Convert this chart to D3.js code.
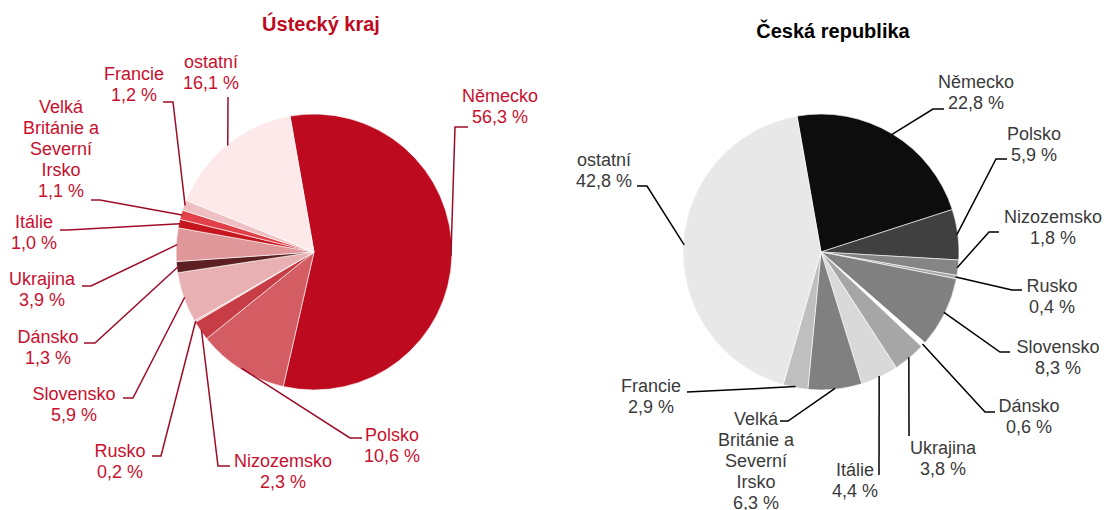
<!DOCTYPE html>
<html>
<head>
  <meta charset="utf-8">
  <title>Ústecký kraj / Česká republika</title>
  <style>
    body { margin: 0; background: #ffffff; }
    svg { display: block; font-family: "Liberation Sans", Arial, sans-serif; }
  </style>
</head>
<body>
  <div id="chart"></div>

  <script src="https://d3js.org/d3.v7.min.js"></script>
  <script>
    // Countries in slice order (clockwise)
    var countries = ["Německo", "Polsko", "Nizozemsko", "Rusko", "Slovensko", "Dánsko",
                     "Ukrajina", "Itálie", "Velká Británie a Severní Irsko", "Francie", "ostatní"];

    // Shares in %
    var usteckyValues = [56.3, 10.6, 2.3, 0.2, 5.9, 1.3, 3.9, 1.0, 1.1, 1.2, 16.1];
    var crValues      = [22.8, 5.9, 1.8, 0.4, 8.3, 0.6, 3.8, 4.4, 6.3, 2.9, 42.8];

    var titles = ["Ústecký kraj", "Česká republika"];

    // Slice colours
    var redColors  = ["#bd0a1e", "#d35d63", "#c73c45", "#f0c0c2", "#e8b0b2", "#5e1f22",
                      "#e0979a", "#c5161f", "#e3414a", "#efc0c3", "#fde9ea"];
    var greyColors = ["#0d0d0d", "#404040", "#858585", "#a6a6a6", "#808080", "#ffffff",
                      "#a6a6a6", "#d9d9d9", "#808080", "#bfbfbf", "#e8e8e8"];

    // Line breaks for long labels
    var wrap = { "Velká Británie a Severní Irsko": ["Velká", "Británie a", "Severní", "Irsko"] };

    // Label placement (text centre, first baseline, leader polyline after the slice edge)
    var leftLabels = [
      { x: 500, y: 102, pts: [[455, 127], [468, 127]] },
      { x: 392, y: 441, pts: [[350, 438], [362, 438]] },
      { x: 283, y: 467, pts: [[218, 466], [230, 466]] },
      { x: 120, y: 457, pts: [[161, 456], [152, 456]] },
      { x: 74,  y: 400, pts: [[133, 398], [123, 398]] },
      { x: 48,  y: 343, pts: [[95, 343], [84, 343]] },
      { x: 42,  y: 285, pts: [[91, 286], [82, 286]] },
      { x: 34,  y: 228, pts: [[68, 230], [60, 230]] },
      { x: 61,  y: 113, pts: [[100, 200], [91, 200]] },
      { x: 134, y: 80,  pts: [[173, 102], [163, 102]] },
      { x: 211, y: 68,  pts: [[228, 97]] }
    ];
    var rightLabels = [
      { x: 976,  y: 88,  pts: [[933, 109], [944, 109]] },
      { x: 1034, y: 140, pts: [[996, 159], [1007, 159]] },
      { x: 1053, y: 223, pts: [[989, 232], [999, 232]] },
      { x: 1052, y: 292, pts: [[1012, 290], [1022, 290]] },
      { x: 1058, y: 353, pts: [[1000, 352], [1010, 352]] },
      { x: 1029, y: 412, pts: [[985, 412], [995, 412]] },
      { x: 943,  y: 454, pts: [[909, 436]] },
      { x: 855,  y: 476, pts: [[879, 475]] },
      { x: 756,  y: 425, pts: [[788, 421], [780, 421]] },
      { x: 651,  y: 392, pts: [[687, 392]] },
      { x: 604,  y: 166, pts: [[647, 186], [637, 186]] }
    ];

    var width = 1106, height = 510;
    var radius = 138;
    var start = -10 * Math.PI / 180;

    var svg = d3.select("#chart").append("svg")
      .attr("width", width)
      .attr("height", height);

    function fmt(v) {
      return d3.format(".1f")(v).replace(".", ",") + " %";
    }

    function drawPie(values, colors, cx, cy, labels, title, titleX, titleY, titleColor, textColor, lineColor) {
      var pie = d3.pie().sort(null).startAngle(start).endAngle(start + 2 * Math.PI);
      var arc = d3.arc().innerRadius(0).outerRadius(radius);
      var edge = d3.arc().innerRadius(radius - 1).outerRadius(radius - 1);
      var arcs = pie(values);

      svg.append("text")
        .attr("x", titleX)
        .attr("y", titleY)
        .attr("text-anchor", "middle")
        .attr("font-weight", "bold")
        .attr("font-size", 20)
        .attr("fill", titleColor)
        .text(title);

      var g = svg.append("g").attr("transform", "translate(" + cx + "," + cy + ")");
      g.selectAll("path")
        .data(arcs)
        .enter().append("path")
        .attr("d", arc)
        .attr("fill", function(d, i) { return colors[i]; })
        .attr("stroke", "#ffffff")
        .attr("stroke-width", 0.6);

      arcs.forEach(function(d, i) {
        var lab = labels[i];
        var c = edge.centroid(d);
        var pts = [[cx + c[0], cy + c[1]]].concat(lab.pts);
        svg.append("path")
          .attr("d", d3.line()(pts))
          .attr("fill", "none")
          .attr("stroke", lineColor)
          .attr("stroke-width", 1.5);

        var lines = (wrap[countries[i]] || [countries[i]]).concat([fmt(values[i])]);
        var t = svg.append("text")
          .attr("text-anchor", "middle")
          .attr("font-size", 18)
          .attr("fill", textColor);
        lines.forEach(function(s, k) {
          t.append("tspan")
            .attr("x", lab.x)
            .attr("y", lab.y + k * 21)
            .text(s);
        });
      });
    }

    drawPie(usteckyValues, redColors, 314, 252, leftLabels, titles[0], 321, 31, "#be0a1e", "#c8102e", "#9c0c28");
    drawPie(crValues, greyColors, 821, 252, rightLabels, titles[1], 833, 38, "#000000", "#3a3a3a", "#000000");
  </script>
</body>
</html>
